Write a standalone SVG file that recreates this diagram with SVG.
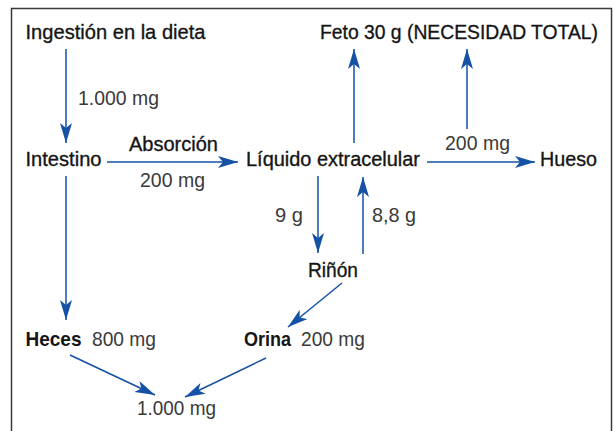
<svg xmlns="http://www.w3.org/2000/svg" width="615" height="431" viewBox="0 0 615 431">
<defs>
<marker id="ah" markerUnits="userSpaceOnUse" markerWidth="22" markerHeight="14" refX="20" refY="6" orient="auto">
<path d="M0,0 L20,6 L0,12 L5,6 Z" fill="#1551a4"/>
</marker>
</defs>
<style>
text{font-family:"Liberation Sans",Arial,sans-serif;font-size:20.5px}
.n{fill:#151515;stroke:#151515;stroke-width:0.35}
.b{fill:#151515;font-weight:bold}
.v{fill:#3a3a3a}
.c line{stroke:#1551a4;stroke-width:1.5;marker-end:url(#ah)}
</style>
<rect x="0" y="0" width="615" height="431" fill="#fff"/>
<rect x="11.5" y="8.5" width="600" height="440" fill="none" stroke="#3a3a3a" stroke-width="1.5"/>
<g class="c" id="connectors">
<line x1="66" y1="49" x2="66" y2="143"/>
<line x1="107" y1="162" x2="238" y2="162"/>
<line x1="427" y1="162" x2="535" y2="162"/>
<line x1="354" y1="143" x2="354" y2="49"/>
<line x1="467" y1="129" x2="467" y2="49"/>
<line x1="66" y1="176" x2="66" y2="320"/>
<line x1="318" y1="176" x2="318" y2="253"/>
<line x1="363" y1="254" x2="363" y2="177"/>
<line x1="342" y1="283" x2="288" y2="327"/>
<line x1="70" y1="355" x2="155" y2="395"/>
<line x1="266" y1="358" x2="185" y2="397"/>
</g>
<g id="ingestion"><text class="n" x="25.5" y="39" textLength="180" lengthAdjust="spacingAndGlyphs">Ingestión en la dieta</text></g>
<g id="feto"><text class="n" x="320" y="39" textLength="278" lengthAdjust="spacingAndGlyphs">Feto 30 g (NECESIDAD TOTAL)</text></g>
<g id="intestino"><text class="n" x="25.5" y="166" textLength="76" lengthAdjust="spacingAndGlyphs">Intestino</text></g>
<g id="liquido"><text class="n" x="246" y="166" textLength="174" lengthAdjust="spacingAndGlyphs">Líquido extracelular</text></g>
<g id="hueso"><text class="n" x="540" y="166" textLength="57" lengthAdjust="spacingAndGlyphs">Hueso</text></g>
<g id="rinon"><text class="n" x="308" y="277" textLength="50" lengthAdjust="spacingAndGlyphs">Riñón</text></g>
<g id="heces"><text class="b" x="25.5" y="346" textLength="56" lengthAdjust="spacingAndGlyphs">Heces</text><text class="v" x="92" y="346" textLength="64" lengthAdjust="spacingAndGlyphs">800 mg</text></g>
<g id="orina"><text class="b" x="244" y="346" textLength="47" lengthAdjust="spacingAndGlyphs">Orina</text><text class="v" x="301" y="346" textLength="64" lengthAdjust="spacingAndGlyphs">200 mg</text></g>
<g id="total"><text class="v" x="137" y="415" textLength="79" lengthAdjust="spacingAndGlyphs">1.000 mg</text></g>
<g id="labels">
<text class="v" x="78" y="105" textLength="81" lengthAdjust="spacingAndGlyphs">1.000 mg</text>
<text class="n" x="129" y="151" textLength="89" lengthAdjust="spacingAndGlyphs">Absorción</text>
<text class="v" x="140" y="187" textLength="65" lengthAdjust="spacingAndGlyphs">200 mg</text>
<text class="v" x="445" y="150" textLength="65" lengthAdjust="spacingAndGlyphs">200 mg</text>
<text class="v" x="275" y="222" textLength="28" lengthAdjust="spacingAndGlyphs">9 g</text>
<text class="v" x="372" y="222" textLength="44" lengthAdjust="spacingAndGlyphs">8,8 g</text>
</g>
</svg>
